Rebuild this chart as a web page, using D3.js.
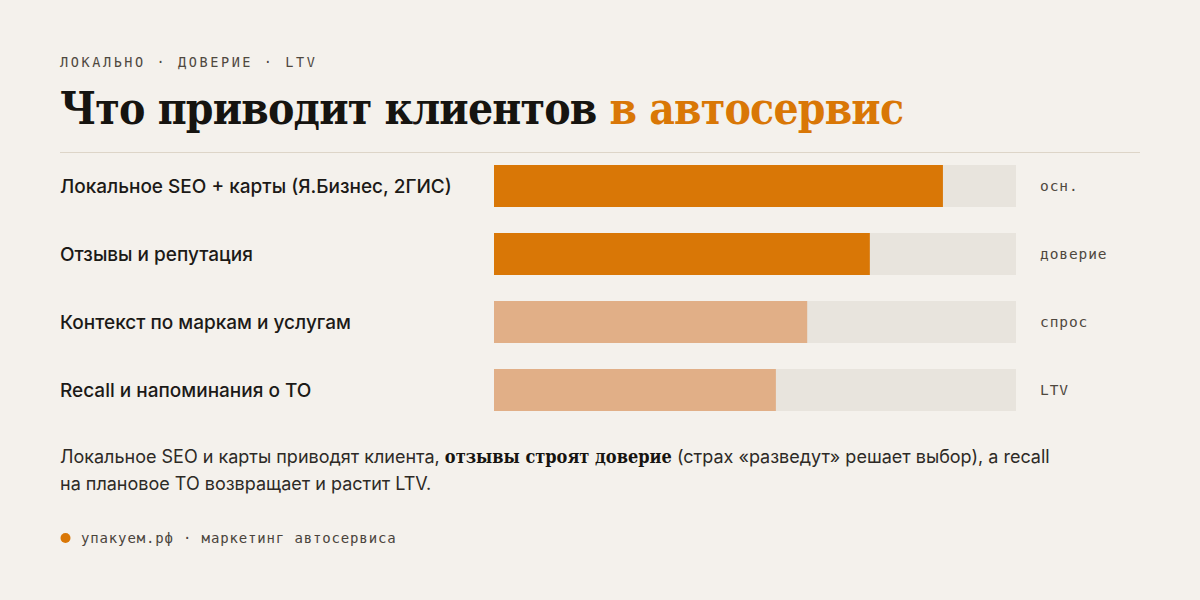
<!DOCTYPE html>
<head>
  <meta charset="utf-8">
  <script src="https://d3js.org/d3.v7.min.js"></script>
  <style>
    body { margin: 0; background: #f4f1ec; }
    svg { display: block; }
    .mono { font-family: "DejaVu Sans Mono", monospace; }
    .sans { font-family: Inter, "Noto Sans", sans-serif; }
    .serif { font-family: "DejaVu Serif Condensed", "DejaVu Serif", serif; font-weight: bold; }
  </style>
</head>
<body>
  <div id="chart"></div>
  <script>
    // data
    var categories = ["Локальное SEO + карты (Я.Бизнес, 2ГИС)", "Отзывы и репутация", "Контекст по маркам и услугам", "Recall и напоминания о ТО"];
    var values = [86, 72, 60, 54];
    var tags = ["осн.", "доверие", "спрос", "LTV"];
    var primary = [true, true, false, false];

    var width = 1200, height = 600;
    var orange = "#d97706", light = "#e1af87", track = "#e8e4dd";

    var svg = d3.select("#chart").append("svg")
      .attr("width", width)
      .attr("height", height)

    svg.append("rect").attr("width", width).attr("height", height).attr("fill", "#f4f1ec")

    // header
    svg.append("text").attr("class", "mono")
      .attr("x", 60).attr("y", 67)
      .attr("font-size", 13.5).attr("letter-spacing", "2.6px")
      .attr("fill", "#4f483f")
      .text("ЛОКАЛЬНО · ДОВЕРИЕ · LTV")

    var title = svg.append("text").attr("class", "serif")
      .attr("x", 60).attr("y", 124)
      .attr("font-size", 44).attr("letter-spacing", "-0.8px")
      .attr("fill", "#161410")
    title.append("tspan").text("Что приводит клиентов ")
    title.append("tspan").attr("fill", orange).text("в автосервис")

    svg.append("line")
      .attr("x1", 60).attr("x2", 1140).attr("y1", 152.5).attr("y2", 152.5)
      .attr("stroke", "#ddd5c8").attr("stroke-width", 1)

    var x = d3.scaleLinear().domain([0, 100]).range([494, 1016])
    var y = d3.scaleBand().domain(categories).range([152, 424])
      .paddingInner(26 / 68).paddingOuter(13 / 68)

    var rows = svg.selectAll(".row")
      .data(categories)
      .enter().append("g")
      .attr("class", "row")

    rows.append("rect")
      .attr("x", x(0))
      .attr("y", function(d) { return y(d) })
      .attr("width", x(100) - x(0))
      .attr("height", y.bandwidth())
      .attr("fill", track)

    rows.append("rect")
      .attr("x", x(0))
      .attr("y", function(d) { return y(d) })
      .attr("width", function(d, i) { return x(values[i]) - x(0) })
      .attr("height", y.bandwidth())
      .attr("fill", function(d, i) { return primary[i] ? orange : light })

    rows.append("text").attr("class", "sans")
      .attr("x", 60)
      .attr("y", function(d) { return y(d) + y.bandwidth() / 2 })
      .attr("dy", "0.35em")
      .attr("font-size", 19)
      .attr("font-weight", 500)
      .attr("fill", "#1c1a17")
      .text(function(d) { return d })

    rows.append("text").attr("class", "mono")
      .attr("x", 1040)
      .attr("y", function(d) { return y(d) + y.bandwidth() / 2 })
      .attr("dy", "0.35em")
      .attr("font-size", 14.5)
      .attr("letter-spacing", "0.9px")
      .attr("fill", "#4f483f")
      .text(function(d, i) { return tags[i] })

    // note
    var note = svg.append("text").attr("class", "sans")
      .attr("x", 60).attr("y", 463)
      .attr("font-size", 18).attr("fill", "#2d2a26")
    note.append("tspan").text("Локальное SEO и карты приводят клиента, ")
    note.append("tspan").attr("class", "serif").attr("font-size", 18).attr("fill", "#161410").text("отзывы строят доверие")
    note.append("tspan").text(" (страх «разведут» решает выбор), а recall")

    svg.append("text").attr("class", "sans")
      .attr("x", 60).attr("y", 490)
      .attr("font-size", 18).attr("fill", "#2d2a26")
      .text("на плановое ТО возвращает и растит LTV.")

    // footer
    svg.append("circle").attr("cx", 65.5).attr("cy", 538).attr("r", 5).attr("fill", orange)
    svg.append("text").attr("class", "mono")
      .attr("x", 81).attr("y", 543)
      .attr("font-size", 14).attr("letter-spacing", "0.85px")
      .attr("fill", "#4a443c")
      .text("упакуем.рф · маркетинг автосервиса")
  </script>
</body>
